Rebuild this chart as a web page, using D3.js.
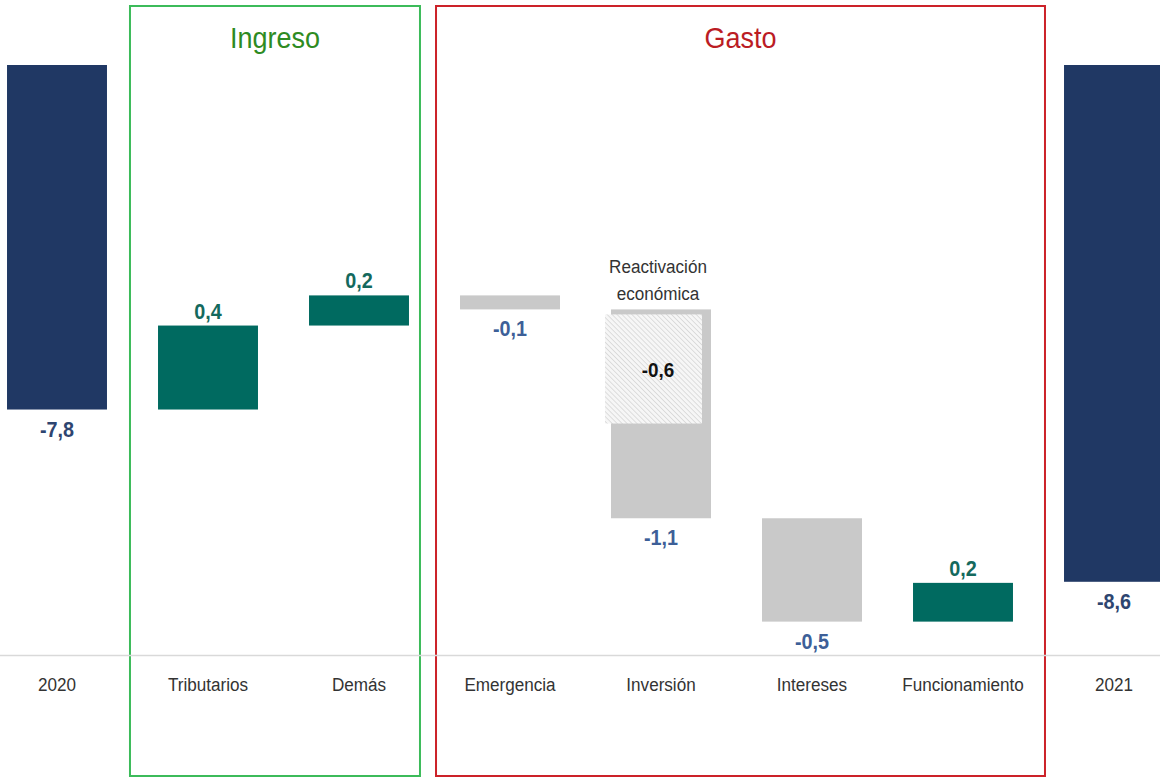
<!DOCTYPE html>
<html>
<head>
<meta charset="utf-8">
<script src="https://cdn.jsdelivr.net/npm/d3@7"></script>
<style>
  body { margin: 0; background: #fff; }
  svg { display: block; font-family: 'Liberation Sans Narrow', 'Arial Narrow', 'Liberation Sans', Arial, sans-serif; }
</style>
</head>
<body>
<svg></svg>
<script>
// categories and values (bar sizes are what is drawn, labels what is printed)
let categories = ['2020', 'Tributarios', 'Demás', 'Emergencia', 'Inversión', 'Intereses', 'Funcionamiento', '2021']
let kinds = ['total', 'up', 'up', 'down', 'down', 'down', 'up', 'total']
let values = [-7.8, 0.39, 0.14, -0.065, -0.97, -0.48, 0.18, -8.6]
let labels = ['-7,8', '0,4', '0,2', '-0,1', '-1,1', '-0,5', '0,2', '-8,6']
let reactivacion = -0.53
let reactivacionLabel = '-0,6'

let width = 1160
let height = 777
let axisY = 655
let topY = 65
let narrow = 0.9  // the original font is a condensed one

let colors = { total: '#203864', up: '#006a60', down: '#c9c9c9' }
let labelColors = { total: '#2e4570', up: '#14695d', down: '#3d5f98' }

let svg = d3.select('svg')
  .attr('width', width)
  .attr('height', height)

let xScale = d3.scaleBand()
  .domain(categories)
  .range([-18.5, 1189.5])
  .paddingInner(0.338)
  .paddingOuter(0.169)

let yScale = d3.scaleLinear()
  .domain([-6.2, -8.94])
  .range([topY, axisY])

// running totals for the waterfall
let bars = []
let running = 0
categories.forEach((c, i) => {
  if (kinds[i] == 'total') {
    bars.push({ cat: c, kind: 'total', from: -6.2, to: values[i], label: labels[i] })
    running = values[i]
  } else {
    bars.push({ cat: c, kind: kinds[i], from: running, to: running + values[i], label: labels[i] })
    running = running + values[i]
  }
})

// text placed at x,y and squeezed horizontally
let addText = (x, y) => {
  return svg.append('g')
    .attr('transform', 'translate(' + x + ',' + y + ') scale(' + narrow + ',1)')
    .append('text')
    .attr('text-anchor', 'middle')
}

let defs = svg.append('defs')
let pattern = defs.append('pattern')
  .attr('id', 'hatch')
  .attr('patternUnits', 'userSpaceOnUse')
  .attr('width', 3.5)
  .attr('height', 3.5)
  .attr('patternTransform', 'rotate(-45)')
pattern.append('rect').attr('width', 3.5).attr('height', 3.5).attr('fill', '#f6f6f6')
pattern.append('line')
  .attr('x1', 0).attr('y1', 0).attr('x2', 0).attr('y2', 3.5)
  .attr('stroke', '#d2d2d2')
  .attr('stroke-width', 1.4)

let drawBoxes = () => {
  let bw = xScale.bandwidth()
  let boxes = [
    { x1: xScale('2020') + bw + 23, x2: xScale('Demás') + bw + 11, color: '#3cbb5a', title: 'Ingreso', titleColor: '#2e8b22' },
    { x1: xScale('Emergencia') - 24, x2: xScale('Funcionamiento') + bw + 32, color: '#cc2229', title: 'Gasto', titleColor: '#bb1c24' }
  ]
  boxes.forEach((b) => {
    svg.append('rect')
      .attr('x', b.x1)
      .attr('y', 6)
      .attr('width', b.x2 - b.x1)
      .attr('height', 770)
      .attr('fill', 'none')
      .attr('stroke', b.color)
      .attr('stroke-width', 2)
    addText((b.x1 + b.x2) / 2, 48)
      .style('font-size', '30px')
      .attr('fill', b.titleColor)
      .text(b.title)
  })
}

let drawAxis = () => {
  let xAxis = d3.axisBottom(xScale).tickSize(0).tickPadding(23)
  let g = svg.append('g')
    .attr('transform', 'translate(0, ' + axisY + ')')
    .call(xAxis)
  g.select('.domain').attr('stroke', '#d9d9d9').attr('stroke-width', 1.5)
  g.selectAll('text')
    .attr('transform', 'scale(' + narrow + ',1)')
    .style('font-size', '19px')
    .style('font-family', "'Liberation Sans Narrow', 'Arial Narrow', 'Liberation Sans', sans-serif")
    .attr('fill', '#333')
}

let drawBars = () => {
  svg.selectAll('rect.bar')
    .data(bars)
    .enter()
    .append('rect')
    .attr('class', 'bar')
    .attr('x', (d) => xScale(d.cat))
    .attr('width', xScale.bandwidth())
    .attr('y', (d) => Math.min(yScale(d.from), yScale(d.to)))
    .attr('height', (d) => Math.abs(yScale(d.to) - yScale(d.from)))
    .attr('fill', (d) => colors[d.kind])

  // hatched part of Inversión: reactivación económica
  let inv = bars[4]
  let bw = xScale.bandwidth()
  let cx = xScale('Inversión') + bw / 2 - 3
  let hy1 = yScale(inv.from) + 5
  let hy2 = yScale(inv.from + reactivacion)
  svg.append('rect')
    .attr('x', xScale('Inversión') - 6)
    .attr('y', hy1)
    .attr('width', bw - 3)
    .attr('height', hy2 - hy1)
    .attr('fill', 'url(#hatch)')

  addText(cx, (hy1 + hy2) / 2 + 8)
    .style('font-size', '21px')
    .style('font-weight', 'bold')
    .attr('fill', '#111')
    .text(reactivacionLabel)

  addText(cx, yScale(inv.from) - 36)
    .style('font-size', '19px')
    .attr('fill', '#333')
    .text('Reactivación')
  addText(cx, yScale(inv.from) - 9)
    .style('font-size', '19px')
    .attr('fill', '#333')
    .text('económica')

  bars.forEach((d) => {
    addText(xScale(d.cat) + bw / 2, d.kind == 'up' ? yScale(d.to) - 7 : yScale(d.to) + 27)
      .style('font-size', '22px')
      .style('font-weight', 'bold')
      .attr('fill', labelColors[d.kind])
      .text(d.label)
  })
}

drawBoxes()
drawBars()
drawAxis()
</script>
</body>
</html>
